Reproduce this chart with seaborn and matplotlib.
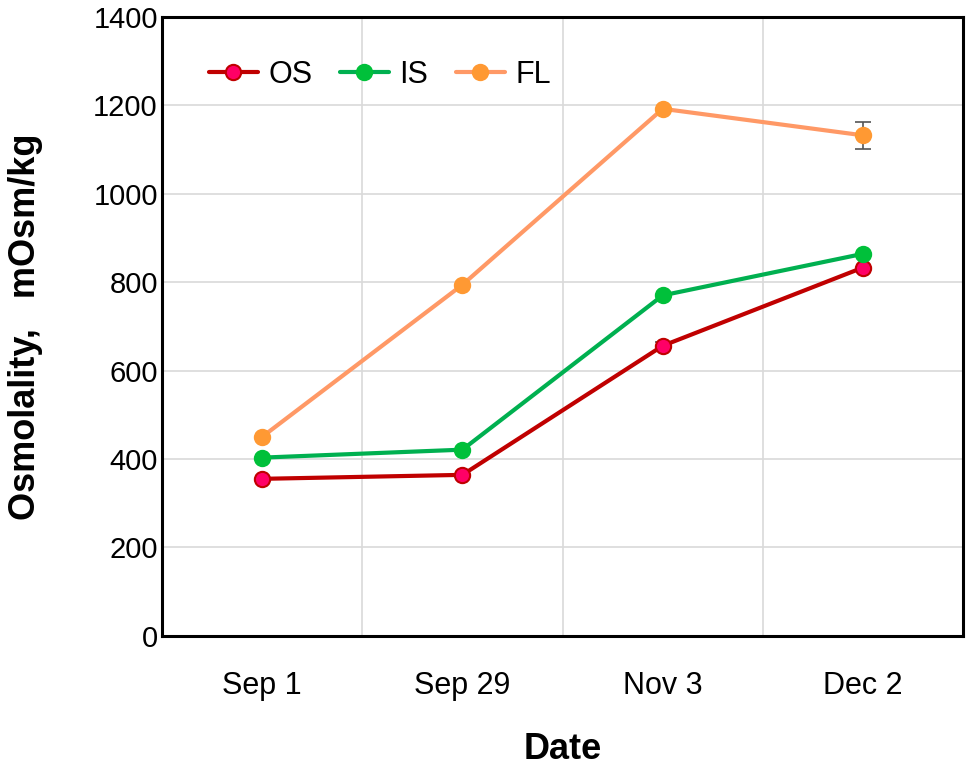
import matplotlib
matplotlib.use("Agg")
import matplotlib.pyplot as plt
import seaborn as sns
import pandas as pd

# dados
datas = ["Sep 1", "Sep 29", "Nov 3", "Dec 2"]
os_vals = [355, 364, 656, 833]
is_vals = [403, 421, 770, 864]
fl_vals = [450, 794, 1192, 1132]
fl_err = [0, 0, 0, 30]
os_err = [0, 0, 8, 0]

series = ["OS", "IS", "FL"]
linhas = {"OS": "#C00000", "IS": "#00B050", "FL": "#FF9966"}
faces = {"OS": "#FF0066", "IS": "#00C03A", "FL": "#FF9933"}

sns.set_theme(style="white")
plt.rcParams['font.family'] = ['Liberation Sans', 'DejaVu Sans']
plt.rcParams['text.color'] = 'black'
plt.rcParams['axes.labelcolor'] = 'black'

fig = plt.figure(figsize=(9.7, 7.66), dpi=100)
ax = fig.add_axes([0.167, 0.170, 0.826, 0.808])

valores = {"OS": os_vals, "IS": is_vals, "FL": fl_vals}
for s in series:
    df = pd.DataFrame({"Data": datas, "Valor": valores[s]})
    sns.lineplot(data=df, x="Data", y="Valor", ax=ax, color=linhas[s], lw=3,
                 marker="o", markersize=11, markerfacecolor=faces[s],
                 markeredgecolor=linhas[s] if s == "OS" else faces[s],
                 markeredgewidth=1.5, label=s, zorder=3)

ax.errorbar(range(len(datas)), fl_vals, yerr=fl_err, fmt="none", ecolor="#555555",
            elinewidth=1.2, capsize=6, capthick=1.2, zorder=2)
ax.errorbar(range(len(datas)), os_vals, yerr=os_err, fmt="none", ecolor="#555555",
            elinewidth=1.2, capsize=6, capthick=1.2, zorder=2)

ax.set_xlim(-0.5, 3.5)
ax.set_ylim(0, 1400)
ax.set_yticks(range(0, 1401, 200))
ax.set_xticks(range(len(datas)))
ax.set_xticklabels(datas)

# grade entre as categorias
for xg in [0.5, 1.5, 2.5]:
    ax.axvline(xg, color="#D9D9D9", lw=1.2, zorder=0)
for yg in range(200, 1400, 200):
    ax.axhline(yg, color="#D9D9D9", lw=1.2, zorder=0)

for sp in ax.spines.values():
    sp.set_color("black")
    sp.set_linewidth(2.2)

ax.tick_params(axis="x", length=0, labelsize=22, colors="black", pad=25)
ax.tick_params(axis="y", length=0, labelsize=21, colors="black", pad=3)

ax.set_xlabel("Date", fontsize=26, fontweight="bold", labelpad=23)
ax.set_ylabel("Osmolality,   mOsm/kg", fontsize=26, fontweight="bold", labelpad=36)

ax.legend(loc="upper left", bbox_to_anchor=(0.043, 0.95), ncol=3, frameon=False,
          fontsize=22, handlelength=1.6, handletextpad=0.35, columnspacing=0.9,
          borderaxespad=0)

fig.savefig("out.png", dpi=100)
